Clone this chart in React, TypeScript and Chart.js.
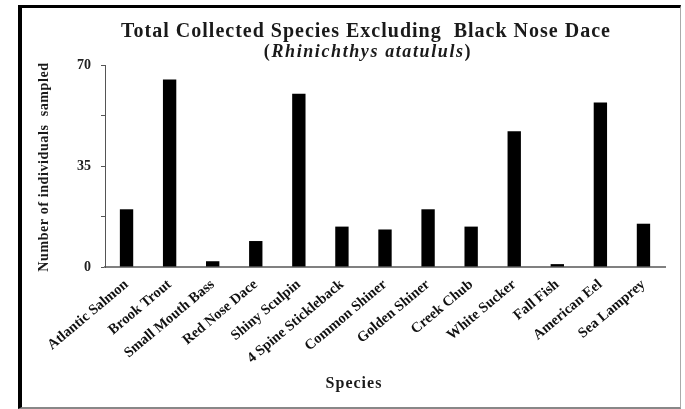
import React, { useEffect, useRef } from "react";
import { Chart, registerables } from "chart.js";

Chart.register(...registerables);

const species = [
  "Atlantic Salmon",
  "Brook Trout",
  "Small Mouth Bass",
  "Red Nose Dace",
  "Shiny Sculpin",
  "4 Spine Stickleback",
  "Common Shiner",
  "Golden Shiner",
  "Creek Chub",
  "White Sucker",
  "Fall Fish",
  "American Eel",
  "Sea Lamprey",
];
const counts = [20, 65, 2, 9, 60, 14, 13, 20, 14, 47, 1, 57, 15];
const yTickLabels = [0, 35, 70];
const titleText = "Total Collected Species Excluding  Black Nose Dace";
const subtitleGenus = "Rhinichthys atatululs";
const yAxisTitle = "Number of individuals  sampled";
const xAxisTitle = "Species";

const SERIF = "'Liberation Serif', 'Times New Roman', serif";

function drawSpaced(ctx: any, text: string, x: number, y: number, spacing: number) {
  if ("letterSpacing" in ctx) {
    ctx.letterSpacing = spacing + "px";
    ctx.fillText(text, x, y);
    ctx.letterSpacing = "0px";
  } else {
    ctx.fillText(text, x, y);
  }
}

function measureSpaced(ctx: any, text: string, spacing: number) {
  if ("letterSpacing" in ctx) {
    ctx.letterSpacing = spacing + "px";
    const w = ctx.measureText(text).width;
    ctx.letterSpacing = "0px";
    return w;
  }
  return ctx.measureText(text).width;
}

const textPlugin = {
  id: "customText",
  afterDraw(chart: any) {
    const ctx = chart.ctx;
    ctx.save();
    ctx.fillStyle = "#1a1a1a";
    ctx.textBaseline = "alphabetic";
    // title
    ctx.textAlign = "left";
    ctx.font = `bold 20px ${SERIF}`;
    const tw = measureSpaced(ctx, titleText, 1);
    drawSpaced(ctx, titleText, 366 - tw / 2, 37, 1);
    // subtitle: "(" + italic + ")"
    const sp = 1.6;
    ctx.font = `bold 18px ${SERIF}`;
    const wOpen = measureSpaced(ctx, "(", sp);
    const wClose = measureSpaced(ctx, ")", sp);
    ctx.font = `italic bold 18px ${SERIF}`;
    const wMid = measureSpaced(ctx, subtitleGenus, sp);
    let x = 368 - (wOpen + wMid + wClose) / 2;
    ctx.font = `bold 18px ${SERIF}`;
    drawSpaced(ctx, "(", x, 57, sp);
    x += wOpen;
    ctx.font = `italic bold 18px ${SERIF}`;
    drawSpaced(ctx, subtitleGenus, x, 57, sp);
    x += wMid;
    ctx.font = `bold 18px ${SERIF}`;
    drawSpaced(ctx, ")", x, 57, sp);
    // x axis title
    ctx.font = `bold 16px ${SERIF}`;
    const xw = measureSpaced(ctx, xAxisTitle, 1);
    drawSpaced(ctx, xAxisTitle, 354 - xw / 2, 388, 1);
    // y axis title
    ctx.translate(44, 167);
    ctx.rotate(-Math.PI / 2);
    ctx.font = `bold 14px ${SERIF}`;
    ctx.textBaseline = "middle";
    const yw = measureSpaced(ctx, yAxisTitle, 0.6);
    drawSpaced(ctx, yAxisTitle, -yw / 2, 0, 0.6);
    ctx.restore();
  },
};

export default function App() {
  const ref = useRef<HTMLCanvasElement | null>(null);
  useEffect(() => {
    if (!ref.current) return;
    const chart = new Chart(ref.current, {
      type: "bar",
      data: {
        labels: species,
        datasets: [
          {
            data: counts,
            backgroundColor: "#000000",
            borderWidth: 0,
            barPercentage: 0.31,
            categoryPercentage: 1,
          },
        ],
      },
      options: {
        animation: false,
        responsive: false,
        maintainAspectRatio: false,
        layout: { padding: { left: 0, top: 65, right: 20, bottom: 0 } },
        plugins: {
          legend: { display: false },
          title: { display: false },
          tooltip: { enabled: false },
        },
        scales: {
          x: {
            grid: { display: false, drawTicks: false },
            border: { display: true, color: "#808080", width: 2 },
            ticks: {
              minRotation: 40,
              maxRotation: 40,
              autoSkip: false,
              padding: 9,
              color: "#111111",
              font: { family: SERIF, size: 14.5, weight: "bold" },
            },
            afterFit(scale: any) {
              scale.height = 142;
            },
          },
          y: {
            min: 0,
            max: 70,
            grid: {
              display: true,
              drawOnChartArea: false,
              drawTicks: true,
              tickLength: 4,
              color: "#555555",
            },
            border: { display: true, color: "#555555", width: 1 },
            ticks: {
              stepSize: 17.5,
              padding: 10,
              color: "#222222",
              font: { family: SERIF, size: 14, weight: "bold" },
              callback: (v: any) =>
                yTickLabels.includes(Number(v)) ? String(v) : "",
            },
            afterFit(scale: any) {
              scale.width = 105;
            },
          },
        },
      },
      plugins: [textPlugin],
    });
    return () => chart.destroy();
  }, []);

  return (
    <div
      style={{
        position: "fixed",
        left: 0,
        top: 0,
        width: 685,
        height: 409,
        background: "#ffffff",
      }}
    >
      <div
        style={{
          position: "absolute",
          left: 18,
          top: 5,
          width: 658,
          height: 399,
          borderLeft: "4px solid #000",
          borderTop: "3px solid #000",
          borderRight: "1px solid #aaa",
          borderBottom: "2px solid #888",
        }}
      />
      <canvas
        ref={ref}
        width={685}
        height={409}
        style={{ position: "absolute", left: 0, top: 0, width: 685, height: 409 }}
      />
    </div>
  );
}
